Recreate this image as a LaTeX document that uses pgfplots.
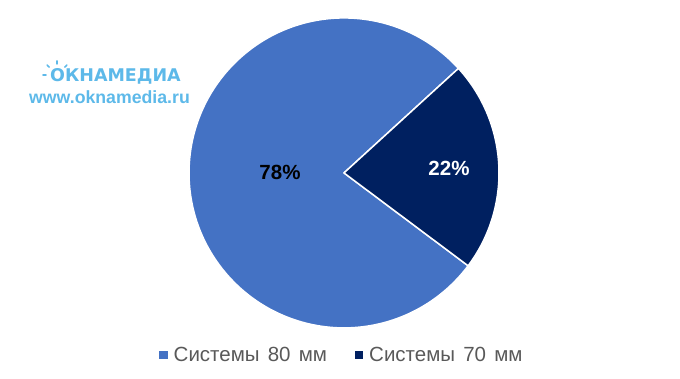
\documentclass[border=0pt]{standalone}
\usepackage{pgfplots}
\pgfplotsset{compat=1.18}
\usepackage{pgfplotstable}
\usepackage{fontspec}
\setmainfont{Liberation Sans}
\newfontfamily\logofont{DejaVu Sans}
\definecolor{sliceA}{HTML}{4472C4}
\definecolor{sliceB}{HTML}{002060}
\definecolor{logoblue}{HTML}{5DB9E9}
\definecolor{legtext}{HTML}{595959}
\pgfplotstableread{
label value
80 78
70 22
}\piedata
\begin{document}
\begin{tikzpicture}
\pgfplotstablegetelem{0}{value}\of\piedata \pgfmathsetmacro\va{\pgfplotsretval}
\pgfplotstablegetelem{1}{value}\of\piedata \pgfmathsetmacro\vb{\pgfplotsretval}
\pgfmathsetmacro\sA{42.4}
\pgfmathsetmacro\eA{\sA+\va*3.6}
\pgfmathsetmacro\eB{\eA+\vb*3.6}
\begin{axis}[
  x=1pt, y=1pt, xmin=0, xmax=680, ymin=0, ymax=378,
  hide axis, clip=false, scale only axis,
  legend columns=2,
  legend style={at={(axis cs:342,24)}, anchor=center, draw=none, fill=none,
    font=\fontsize{20.5}{22}\selectfont\color{legtext},
    /tikz/every odd column/.append style={column sep=5pt},
    /tikz/every even column/.append style={column sep=26pt}},
  legend cell align=left,
]
\path (axis cs:0,0) rectangle (axis cs:680,378);
\addlegendimage{only marks, mark=square*, mark size=3.6pt, mark options={fill=sliceA, draw=sliceA}}
\addlegendentry{Системы\hspace{2.5pt} 80\hspace{2.5pt} мм}
\addlegendimage{only marks, mark=square*, mark size=3.6pt, mark options={fill=sliceB, draw=sliceB}}
\addlegendentry{Системы\hspace{2.5pt} 70\hspace{2.5pt} мм}
\fill[sliceA, draw=white, line width=1.5pt, line join=round] (axis cs:344,206) -- ++(\sA:155pt) arc[start angle=\sA, end angle=\eA, radius=155pt] -- cycle;
\fill[sliceB, draw=white, line width=1.5pt, line join=round] (axis cs:344,206) -- ++(\eA:155pt) arc[start angle=\eA, end angle=\eB, radius=155pt] -- cycle;
\node[font=\fontsize{20.5}{22}\selectfont\bfseries, text=black] at (axis cs:280,206) {78\%};
\node[font=\fontsize{20.5}{22}\selectfont\bfseries, text=white] at (axis cs:449,210) {22\%};
% logo watermark
\node[anchor=west, inner sep=0pt, font=\logofont\fontsize{17.5}{20}\selectfont\bfseries, text=logoblue] at (axis cs:50,303) {ОКНАМЕДИА};
\pgfplotsinvokeforeach{45,90,135,180}{
  \draw[logoblue, line width=1.6pt, line cap=round] (axis cs:57,304) ++(#1:11pt) -- ++(#1:3pt);
}
\node[anchor=west, inner sep=0pt, font=\fontsize{17.7}{20}\selectfont\bfseries, text=logoblue] at (axis cs:29,282) {www.oknamedia.ru};
\end{axis}
\end{tikzpicture}
\end{document}
